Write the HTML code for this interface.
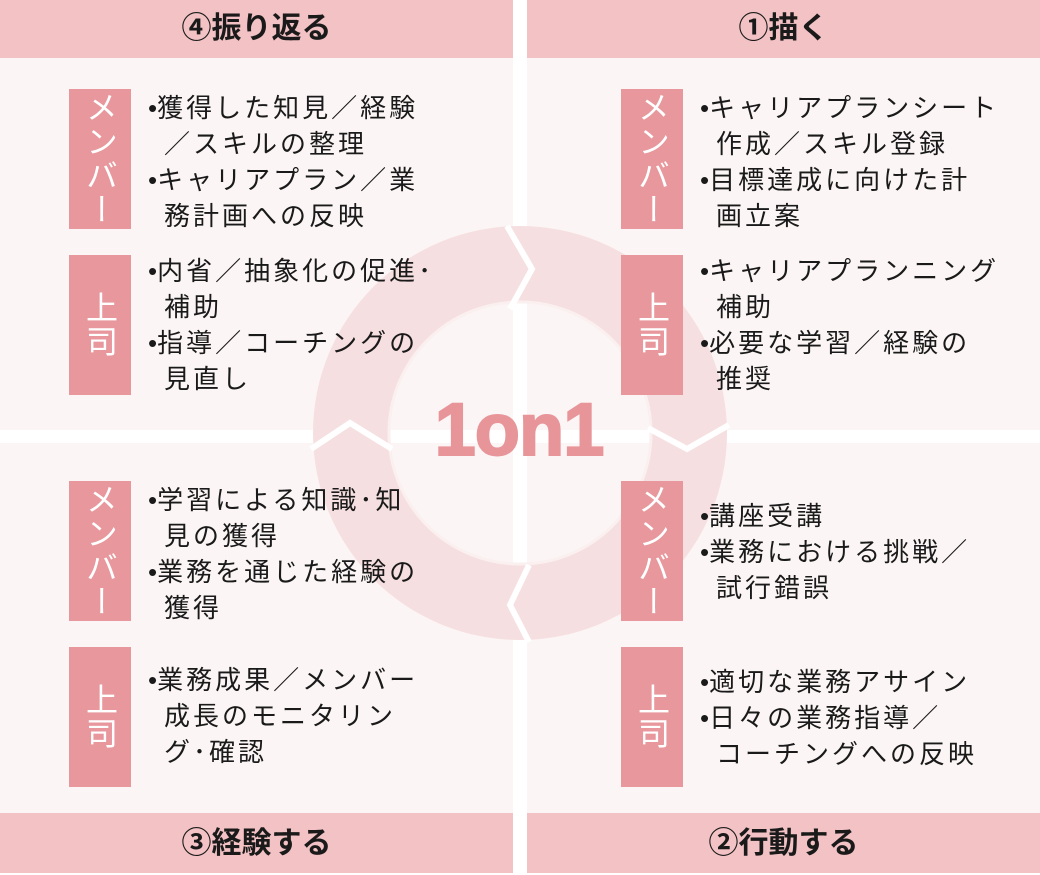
<!DOCTYPE html>
<html><head><meta charset="utf-8"><style>
body{margin:0;width:1040px;height:873px;position:relative;background:#fff;overflow:hidden;font-family:"Liberation Sans","Noto Sans CJK JP",sans-serif;}
.a{position:absolute}
.bg{background:#fcf5f5}
.hd{background:#f2c2c4;font-weight:bold;font-size:30px;color:#1a1a1a;text-align:center;line-height:58px}
.lb{position:absolute;width:62px;background:#e8979c;color:#fff;font-size:32px;display:flex;align-items:center;justify-content:center;}
.lb span{writing-mode:vertical-rl;letter-spacing:2px}
.tx{position:absolute;font-size:26px;line-height:36px;color:#1a1a1a;white-space:nowrap;letter-spacing:3px}
.tx div{padding-left:16px;text-indent:-16px}
.tx b{font-weight:normal;letter-spacing:0}
</style></head><body>
<div class="a bg" style="left:0;top:58px;width:513px;height:372px"></div>
<div class="a bg" style="left:527px;top:58px;width:513px;height:372px"></div>
<div class="a bg" style="left:0;top:443px;width:513px;height:370px"></div>
<div class="a bg" style="left:527px;top:443px;width:513px;height:370px"></div>
<div class="a hd" style="left:0;top:0;width:513px;height:58px">④振り返る</div>
<div class="a hd" style="left:527px;top:0;width:513px;height:58px">①描く</div>
<div class="a hd" style="left:0;top:813px;width:513px;height:60px;line-height:62px">③経験する</div>
<div class="a hd" style="left:527px;top:813px;width:513px;height:60px;line-height:62px">②行動する</div>
<svg class="a" style="left:0;top:0" width="1040" height="873">
<path fill-rule="evenodd" fill="#f6dfe0" d="M313,433 a207,207 0 1,0 414,0 a207,207 0 1,0 -414,0 Z M390,433 a130,130 0 1,0 260,0 a130,130 0 1,0 -260,0 Z"/>
<circle cx="520" cy="433" r="131" fill="none" stroke="#fbf0f0" stroke-width="3"/>
<g fill="none" stroke="#fff" stroke-width="6">
<polyline points="507,226 532,269 510,309"/>
<polyline points="311,449 350,423 392,449"/>
<polyline points="648,428 687,449 729,425"/>
<polyline points="529,565 510,605 529,642"/>
</g>
<text x="519" y="455" text-anchor="middle" font-family="Liberation Sans, sans-serif" font-weight="bold" font-size="74" fill="#e8959a" stroke="#e8959a" stroke-width="2" letter-spacing="-1">1on1</text>
</svg>
<div class="lb" style="left:69px;top:89px;height:140px"><span>メンバー</span></div>
<div class="lb" style="left:69px;top:255px;height:140px"><span>上司</span></div>
<div class="lb" style="left:69px;top:481px;height:140px"><span>メンバー</span></div>
<div class="lb" style="left:69px;top:647px;height:140px"><span>上司</span></div>
<div class="lb" style="left:621px;top:89px;height:140px"><span>メンバー</span></div>
<div class="lb" style="left:621px;top:255px;height:140px"><span>上司</span></div>
<div class="lb" style="left:621px;top:481px;height:140px"><span>メンバー</span></div>
<div class="lb" style="left:621px;top:647px;height:140px"><span>上司</span></div>
<div class="tx" style="left:148px;top:90px"><div><b>•</b>獲得した知見／経験<br>／スキルの整理</div><div><b>•</b>キャリアプラン／業<br>務計画への反映</div></div>
<div class="tx" style="left:148px;top:253px"><div><b>•</b>内省／抽象化の促進･<br>補助</div><div><b>•</b>指導／コーチングの<br>見直し</div></div>
<div class="tx" style="left:148px;top:482px"><div><b>•</b>学習による知識･知<br>見の獲得</div><div><b>•</b>業務を通じた経験の<br>獲得</div></div>
<div class="tx" style="left:148px;top:662px"><div><b>•</b>業務成果／メンバー<br>成長のモニタリン<br>グ･確認</div></div>
<div class="tx" style="left:700px;top:90px"><div><b>•</b>キャリアプランシート<br>作成／スキル登録</div><div><b>•</b>目標達成に向けた計<br>画立案</div></div>
<div class="tx" style="left:700px;top:253px"><div><b>•</b>キャリアプランニング<br>補助</div><div><b>•</b>必要な学習／経験の<br>推奨</div></div>
<div class="tx" style="left:700px;top:498px"><div><b>•</b>講座受講</div><div><b>•</b>業務における挑戦／<br>試行錯誤</div></div>
<div class="tx" style="left:700px;top:664px"><div><b>•</b>適切な業務アサイン</div><div><b>•</b>日々の業務指導／<br>コーチングへの反映</div></div>
</body></html>
